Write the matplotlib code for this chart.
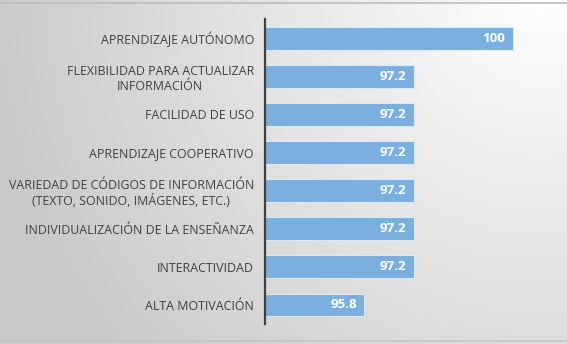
import numpy as np
import matplotlib
matplotlib.use("Agg")
import matplotlib.pyplot as plt

categories = [
    "APRENDIZAJE AUTÓNOMO",
    "FLEXIBILIDAD PARA ACTUALIZAR\nINFORMACIÓN",
    "FACILIDAD DE USO",
    "APRENDIZAJE COOPERATIVO",
    "VARIEDAD DE CÓDIGOS DE INFORMACIÓN\n(TEXTO, SONIDO, IMÁGENES, ETC.)",
    "INDIVIDUALIZACIÓN DE LA ENSEÑANZA",
    "INTERACTIVIDAD",
    "ALTA MOTIVACIÓN",
]
values = [100, 97.2, 97.2, 97.2, 97.2, 97.2, 97.2, 95.8]
value_labels = ["100", "97.2", "97.2", "97.2", "97.2", "97.2", "97.2", "95.8"]

W, H = 567, 344
fig = plt.figure(figsize=(W / 100, H / 100), dpi=100)

# background gradient
bg = fig.add_axes([0, 0, 1, 1])
yy, xx = np.mgrid[0:H, 0:W]
d = np.sqrt((xx - 540) ** 2 + (yy + 10) ** 2)
t = np.clip(d / 560.0, 0, 1)
c0 = np.array([1.0, 1.0, 1.0])
c1 = np.array([0.79, 0.79, 0.79])
img = c0[None, None, :] * (1 - t[..., None]) + c1[None, None, :] * t[..., None]
bg.imshow(img, extent=[0, W, H, 0], aspect="auto")
bg.set_xlim(0, W)
bg.set_ylim(H, 0)
bg.axis("off")
bg.plot([0, W], [2.5, 2.5], color="#bcbcbc", lw=1.2)
bg.plot([0, W], [341, 341], color="#c4c4c4", lw=1.2)

ax = fig.add_axes([265 / W, 20 / H, (548 - 265) / W, (324 - 19) / H])
ax.patch.set_alpha(0)
y = np.arange(len(categories))
ax.barh(y, values, left=0, height=0.6, color="#7aafdf", edgecolor="#dbe8f5", linewidth=0.8)
ax.set_xlim(93, 101)
ax.set_ylim(len(categories) - 0.5, -0.5)
for s in ["top", "right", "bottom"]:
    ax.spines[s].set_visible(False)
ax.spines["left"].set_color("#404040")
ax.spines["left"].set_linewidth(1.6)
ax.set_xticks([])
ax.set_yticks(y)
ax.set_yticklabels(categories, fontsize=8.9, color="#404040", family="Open Sans",
                   linespacing=1.25, multialignment="center")
ax.tick_params(axis="y", length=0, pad=8)
for yi, v, lab in zip(y, values, value_labels):
    ax.text(v - 0.2, yi, lab, ha="right", va="center", color="white",
            fontsize=9.6, fontweight="bold", family="Open Sans")

fig.savefig("out.png", dpi=100)
